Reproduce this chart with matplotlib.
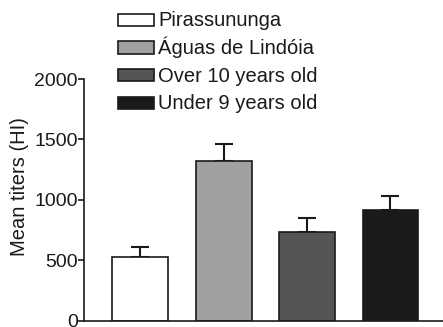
import matplotlib
matplotlib.use("Agg")
import matplotlib.pyplot as plt
from matplotlib.patches import Rectangle

plt.rcParams['font.family'] = ['Liberation Sans', 'DejaVu Sans']

categories = ["Pirassununga", "Águas de Lindóia", "Over 10 years old", "Under 9 years old"]
means = [530, 1325, 732, 914]
errors = [77, 138, 121, 118]
colors = ["#ffffff", "#a0a0a0", "#555555", "#1a1a1a"]
yticks = [0, 500, 1000, 1500, 2000]

W, H = 443, 327
fig = plt.figure(figsize=(W / 100, H / 100), dpi=100)
ax = fig.add_axes([84 / W, 6.3 / H, (W - 84) / W, (320.7 - 79) / H])

ink = "#1a1a1a"
x = list(range(len(categories)))
ax.bar(x, means, width=0.67, color=colors, edgecolor=ink, linewidth=1.2, zorder=2)
ax.errorbar(x, means, yerr=[[0] * len(means), errors], fmt="none", ecolor=ink,
            elinewidth=1.5, capsize=6.5, capthick=1.5, zorder=1)

ax.set_xlim(-0.675, 3.63)
ax.set_ylim(0, 2000)
ax.set_yticks(yticks)
ax.set_yticklabels([str(t) for t in yticks], fontsize=14, color=ink)
ax.set_xticks([])
ax.tick_params(axis="y", direction="out", length=4, width=1.2, pad=0.5, color=ink)
for s in ["top", "right"]:
    ax.spines[s].set_visible(False)
for s in ["left", "bottom"]:
    ax.spines[s].set_linewidth(1.2)
    ax.spines[s].set_color(ink)
ax.set_ylabel("Mean titers (HI)", fontsize=14.5, color=ink, labelpad=4, y=0.553)

# legend drawn manually (patch + label per category)
box_x, box_w, box_h = 117.5, 36.5, 12.5
row_top0, row_step = 13.5, 27.7
for i, (c, label) in enumerate(zip(colors, categories)):
    top = row_top0 + i * row_step
    fig.add_artist(Rectangle((box_x / W, 1 - (top + box_h) / H), box_w / W, box_h / H,
                             transform=fig.transFigure, facecolor=c, edgecolor=ink,
                             linewidth=1.2))
    fig.text(158.5 / W, 1 - (top + box_h + 0.3) / H, label, fontsize=14.5, color=ink,
             ha="left", va="baseline")

fig.savefig("out.png", dpi=100)
